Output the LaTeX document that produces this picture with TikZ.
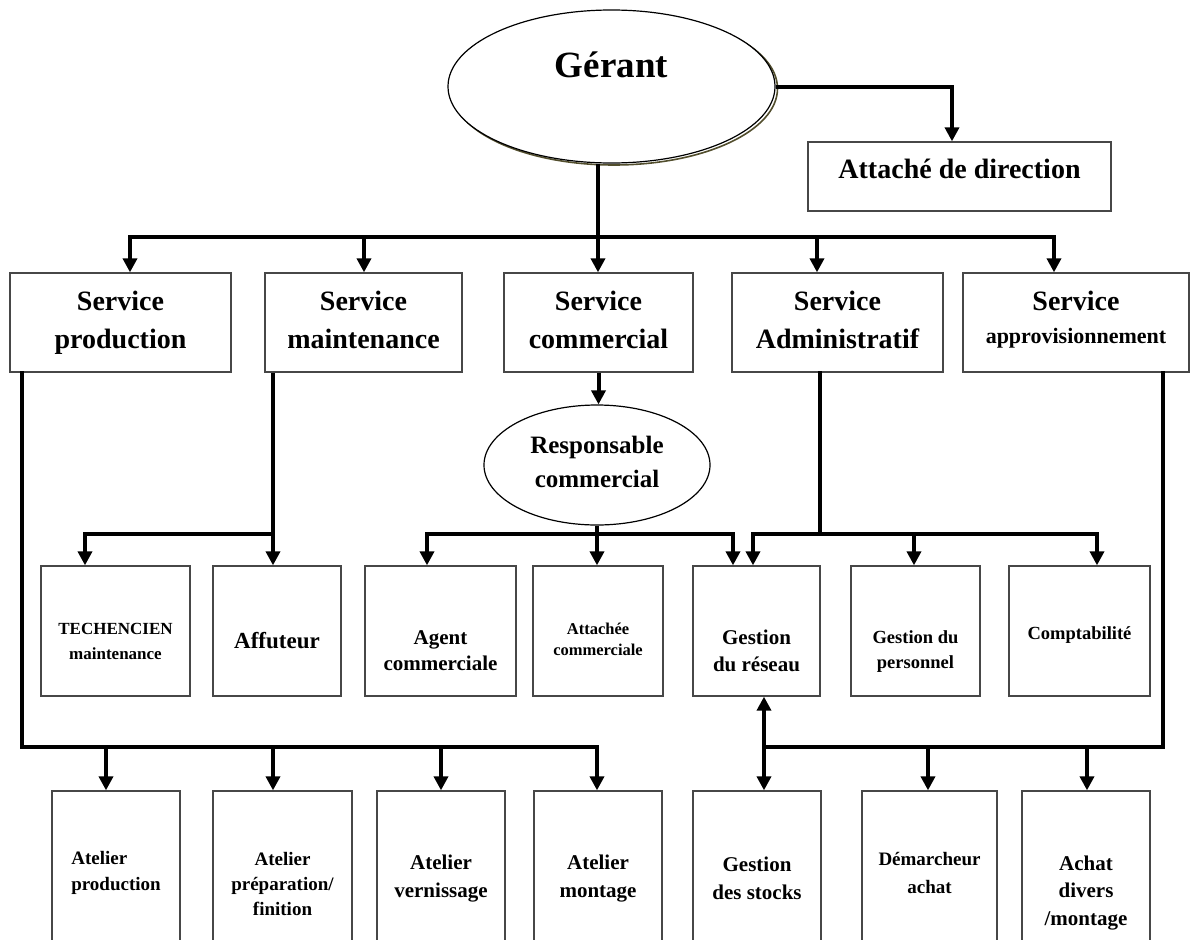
\documentclass[tikz,border=0pt]{standalone}
\usepackage{fontspec}
\setmainfont{Liberation Serif}
\usetikzlibrary{arrows.meta,shapes.geometric,calc}
% #1 column spec, #2 raise of last baseline above node centre, #3 font size, #4 baselineskip, #5 text
\newcommand\tx[5][c]{\raisebox{#2pt}[0pt][0pt]{\fontsize{#3}{#4}\selectfont\bfseries\begin{tabular}[b]{@{}#1@{}}#5\end{tabular}}}
\tikzset{
  box/.style={draw=black!72, line width=1.3pt, rectangle, inner sep=0pt, fill=white},
  oval/.style={draw=black, line width=1.2pt, ellipse, inner sep=0pt, fill=white},
  wire/.style={line width=4pt, line cap=rect, line join=miter},
  conn/.style={line width=4pt, -{Triangle[length=14pt,width=14pt]}},
  srv/.style={box, minimum height=99pt},
  sub/.style={box, minimum height=130pt},
  low/.style={box, minimum height=180pt},
}
\begin{document}
\begin{tikzpicture}[x=1pt,y=-1pt]
\useasboundingbox (0,0) rectangle (1192,940);
\clip (0,0) rectangle (1192,940);
\fill[white] (0,0) rectangle (1192,940);

% --- top
\draw[olive!45!black, line width=1.6pt] (614,88.5) ellipse [x radius=163.5pt, y radius=76.5pt];
\node[oval, minimum width=327pt, minimum height=153pt] (ger) at (611.5,86.5) {\tx{9}{37}{40}{Gérant}};
\node[box, minimum width=303pt, minimum height=69pt] (att) at (959.5,176.5) {\tx{-1.5}{28}{30}{Attaché de direction}};

% --- services
\node[srv, minimum width=221pt] (sprod) at (120.5,322.5) {\tx{-25.5}{28}{38}{Service\\production}};
\node[srv, minimum width=197pt] (smain) at (363.5,322.5) {\tx{-25.5}{28}{38}{Service\\maintenance}};
\node[srv, minimum width=189pt] (scom) at (598.5,322.5) {\tx{-25.5}{28}{38}{Service\\commercial}};
\node[srv, minimum width=211pt] (sadm) at (837.5,322.5) {\tx{-25.5}{28}{38}{Service\\Administratif}};
\node[srv, minimum width=226pt] (sapp) at (1076,322.5) {\tx{-20.5}{28}{33}{Service\\{\fontsize{22}{26}\selectfont approvisionnement}}};

\node[oval, minimum width=226pt, minimum height=120pt] (resp) at (597,465) {\tx{-22}{25}{34}{Responsable\\commercial}};

% --- second row
\node[sub, minimum width=149pt] (tech) at (115.5,631) {\tx{-28}{17}{25}{TECHENCIEN\\maintenance}};
\node[sub, minimum width=128pt] (aff) at (277,631) {\tx{-17}{23}{27}{Affuteur}};
\node[sub, minimum width=151pt] (agent) at (440.5,631) {\tx{-39}{21}{26}{Agent\\commerciale}};
\node[sub, minimum width=130pt] (attc) at (598,631) {\tx{-24}{16.5}{21}{Attachée\\commerciale}};
\node[sub, minimum width=127pt] (gres) at (756.5,631) {\tx{-40}{21}{27}{Gestion\\du réseau}};
\node[sub, minimum width=129pt] (gper) at (915.5,631) {\tx{-37}{18.5}{25}{Gestion du\\personnel}};
\node[sub, minimum width=141pt] (compt) at (1079.5,631) {\tx{-8}{18.5}{22}{Comptabilité}};

% --- bottom row
\node[low, minimum width=128pt] (apro) at (116,881) {\tx[l]{-9}{19}{26}{Atelier\\production}};
\node[low, minimum width=139pt] (aprep) at (282.5,881) {\tx{-34}{19}{25}{Atelier\\préparation/\\finition}};
\node[low, minimum width=128pt] (avern) at (441,881) {\tx{-16}{21}{28}{Atelier\\vernissage}};
\node[low, minimum width=128pt] (amont) at (598,881) {\tx{-16}{21}{28}{Atelier\\montage}};
\node[low, minimum width=128pt] (gsto) at (757,881) {\tx{-18}{21}{28}{Gestion\\des stocks}};
\node[low, minimum width=135pt] (dem) at (929.5,881) {\tx{-12}{19}{28}{Démarcheur\\achat}};
\node[low, minimum width=128pt] (achat) at (1086,881) {\tx{-44}{21}{27.5}{Achat\\divers\\/montage}};

% --- connectors: Gérant
\draw[conn] (ger.east) -| ($(att.north)+(-7.5,0)$);
\coordinate (g0) at ($(ger.south)+(-13.5,0)$);
\coordinate (b1) at (130,237);
\coordinate (b2) at (364,237);
\coordinate (b4) at (817,237);
\coordinate (b5) at (1054,237);
\draw[wire] (b1) -- (b5);
\draw[conn] (g0) -- (g0 |- scom.north);
\draw[conn] (b1) -- (b1 |- sprod.north);
\draw[conn] (b2) -- (b2 |- smain.north);
\draw[conn] (b4) -- (b4 |- sadm.north);
\draw[conn] (b5) -- (b5 |- sapp.north);

% commercial
\draw[conn] (scom.south) -- (scom.south |- resp.north);
\coordinate (r1) at (427,534);
\coordinate (r3) at (733,534);
\draw[wire] (r1) -- (r3);
\draw[conn] (resp.south) -- (resp.south |- attc.north);
\draw[conn] (r1) -- (r1 |- agent.north);
\draw[conn] (r3) -- (r3 |- gres.north);

% maintenance
\coordinate (m1) at (273,534);
\coordinate (m2) at (85,534);
\draw[wire] (m2) -- (m1);
\draw[conn] (m1 |- smain.south) -- (m1 |- aff.north);
\draw[conn] (m2) -- (m2 |- tech.north);

% administratif
\coordinate (d0) at (820,534);
\coordinate (d1) at (753,534);
\coordinate (d2) at (914,534);
\coordinate (d3) at (1097,534);
\draw[wire] (d0 |- sadm.south) -- (d0);
\draw[wire] (d1) -- (d3);
\draw[conn] (d1) -- (d1 |- gres.north);
\draw[conn] (d2) -- (d2 |- gper.north);
\draw[conn] (d3) -- (d3 |- compt.north);

% production
\coordinate (p0) at (22,747);
\coordinate (p1) at (106,747);
\coordinate (p2) at (273,747);
\coordinate (p3) at (441,747);
\coordinate (p4) at (597,747);
\draw[wire] (p0 |- sprod.south) -- (p0) -- (p4);
\draw[conn] (p1) -- (p1 |- apro.north);
\draw[conn] (p2) -- (p2 |- aprep.north);
\draw[conn] (p3) -- (p3 |- avern.north);
\draw[conn] (p4) -- (p4 |- amont.north);

% approvisionnement
\coordinate (q0) at (1163,747);
\coordinate (q1) at (764,747);
\coordinate (q2) at (928,747);
\coordinate (q3) at (1087,747);
\draw[wire] (q0 |- sapp.south) -- (q0) -- (q1);
\draw[conn] (q1) -- (q1 |- gsto.north);
\draw[conn] (q1) -- (q1 |- gres.south);
\draw[conn] (q2) -- (q2 |- dem.north);
\draw[conn] (q3) -- (q3 |- achat.north);
\end{tikzpicture}
\end{document}
